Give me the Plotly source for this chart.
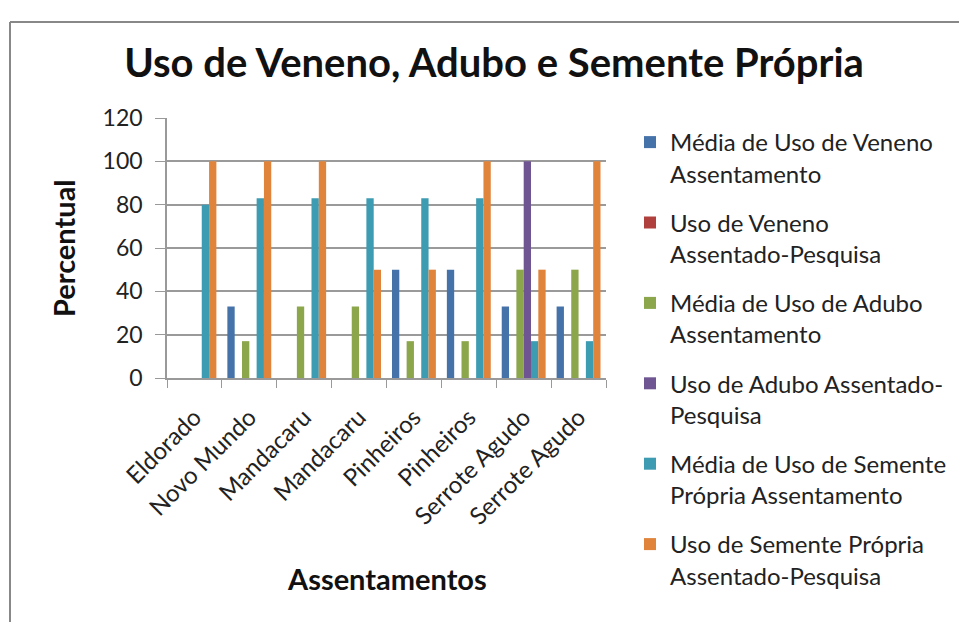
import plotly.graph_objects as go

categories = ["Eldorado", "Novo Mundo", "Mandacaru", "Mandacaru", "Pinheiros",
              "Pinheiros", "Serrote Agudo", "Serrote Agudo"]

series_names = [
    "Média de Uso de Veneno<br>Assentamento",
    "Uso de Veneno<br>Assentado-Pesquisa",
    "Média de Uso de Adubo<br>Assentamento",
    "Uso de Adubo Assentado-<br>Pesquisa",
    "Média de Uso de Semente<br>Própria Assentamento",
    "Uso de Semente Própria<br>Assentado-Pesquisa",
]

veneno_media = [0, 33, 0, 0, 50, 50, 33, 33]
veneno_pesquisa = [0, 0, 0, 0, 0, 0, 0, 0]
adubo_media = [0, 17, 33, 33, 17, 17, 50, 50]
adubo_pesquisa = [0, 0, 0, 0, 0, 0, 100, 0]
semente_media = [80, 83, 83, 83, 83, 83, 17, 17]
semente_pesquisa = [100, 100, 100, 50, 50, 100, 50, 100]

series_values = [veneno_media, veneno_pesquisa, adubo_media,
                 adubo_pesquisa, semente_media, semente_pesquisa]
colors = ["#4672AA", "#B0403D", "#8BA64B", "#6F5693", "#3D9BB2", "#E0843C"]

FONT = "Lato"
OFF = 8  # page body margin of the browser
W, H = 967 - OFF, 622 - OFF
L, T, B = 167 - OFF, 118 - OFF, 8
R = W - (606 - OFF)
pw, ph = W - L - R, H - T - B
axis_bottom = 378 - OFF
y_dom0 = (H - B - axis_bottom) / ph

x_ids = list(range(len(categories)))

fig = go.Figure()
for i, (name, vals, col) in enumerate(zip(series_names, series_values, colors)):
    fig.add_trace(go.Bar(
        x=x_ids, y=vals, name=name, marker_color=col,
        marker_line_width=0, legendgroup=f"g{i}",
    ))


def px_x(sx):
    return (sx - OFF - L) / pw


def px_y(sy):
    return (H - B - (sy - OFF)) / ph


fig.update_layout(
    width=W, height=H,
    margin=dict(l=L, r=R, t=T, b=B, autoexpand=False),
    paper_bgcolor="white", plot_bgcolor="white",
    barmode="group", bargap=0.2, bargroupgap=0,
    font=dict(family=FONT, color="#222222"),
    title=dict(text="<b>Uso de Veneno, Adubo e Semente Própria</b>",
               x=(494 - OFF) / W, xanchor="center",
               y=1 - (63 - OFF) / H, yanchor="middle",
               yref="container", xref="container",
               font=dict(family=FONT, size=40, color="#111111")),
    xaxis=dict(type="category", tickmode="array", tickvals=x_ids,
               ticktext=categories, tickangle=-45, tickson="boundaries",
               ticks="outside", ticklen=8, tickcolor="#999999",
               ticklabelstandoff=14,
               showline=True, linecolor="#999999", linewidth=1.5,
               showgrid=False, tickfont=dict(size=24, color="#222222"),
               range=[-0.5, 7.5]),
    yaxis=dict(range=[0, 120], dtick=20, ticks="outside", ticklen=10,
               domain=[y_dom0, 1],
               tickcolor="#999999", showline=True, linecolor="#999999",
               linewidth=1.5, showgrid=True, gridcolor="#9a9a9a",
               gridwidth=1.5, zeroline=False, ticklabelstandoff=8,
               tickfont=dict(size=23, color="#222222")),
    legend=dict(x=px_x(630), xanchor="left", y=px_y(120), yanchor="top",
                valign="top", tracegroupgap=15,
                font=dict(family=FONT, size=24, color="#222222"),
                bgcolor="rgba(0,0,0,0)"),
    showlegend=True,
    annotations=[
        dict(text="<b>Percentual</b>", x=px_x(63), y=px_y(248),
             xref="paper", yref="paper", textangle=-90, showarrow=False,
             xanchor="center", yanchor="middle",
             font=dict(family=FONT, size=29, color="#111111")),
        dict(text="<b>Assentamentos</b>", x=px_x(387), y=px_y(578),
             xref="paper", yref="paper", showarrow=False,
             xanchor="center", yanchor="middle",
             font=dict(family=FONT, size=29, color="#111111")),
    ],
    shapes=[
        dict(type="line", xref="paper", yref="paper",
             x0=px_x(10), x1=px_x(990), y0=px_y(22), y1=px_y(22),
             line=dict(color="#888888", width=2)),
        dict(type="line", xref="paper", yref="paper",
             x0=px_x(10), x1=px_x(10), y0=px_y(22), y1=px_y(650),
             line=dict(color="#888888", width=2)),
    ],
)

fig.write_html("out.html")
